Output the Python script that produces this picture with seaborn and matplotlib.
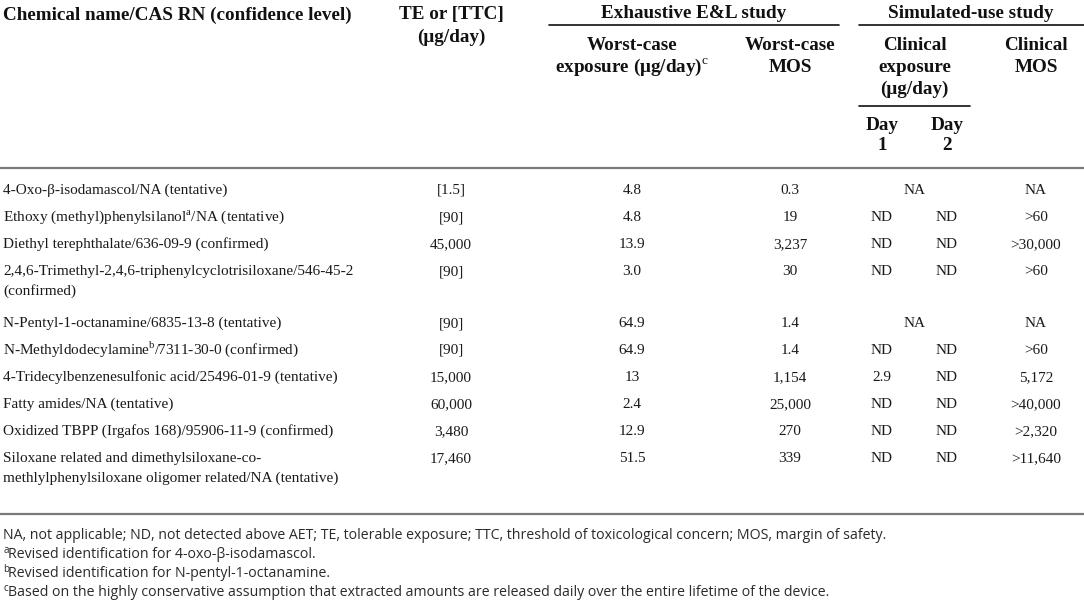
import matplotlib
matplotlib.use("Agg")
import matplotlib.pyplot as plt
import seaborn as sns

# table content
chemicals = [
    "4-Oxo-β-isodamascol/NA (tentative)",
    "Ethoxy (methyl)phenylsilanol$^{\\mathrm{a}}$/NA (tentative)",
    "Diethyl terephthalate/636-09-9 (confirmed)",
    "2,4,6-Trimethyl-2,4,6-triphenylcyclotrisiloxane/546-45-2\n(confirmed)",
    "N-Pentyl-1-octanamine/6835-13-8 (tentative)",
    "N-Methyldodecylamine$^{\\mathrm{b}}$/7311-30-0 (confirmed)",
    "4-Tridecylbenzenesulfonic acid/25496-01-9 (tentative)",
    "Fatty amides/NA (tentative)",
    "Oxidized TBPP (Irgafos 168)/95906-11-9 (confirmed)",
    "Siloxane related and dimethylsiloxane-co-\nmethlylphenylsiloxane oligomer related/NA (tentative)",
]
te_ttc = ["[1.5]", "[90]", "45,000", "[90]", "[90]", "[90]", "15,000", "60,000", "3,480", "17,460"]
worst_exposure = ["4.8", "4.8", "13.9", "3.0", "64.9", "64.9", "13", "2.4", "12.9", "51.5"]
worst_mos = ["0.3", "19", "3,237", "30", "1.4", "1.4", "1,154", "25,000", "270", "339"]
day1 = ["NA", "ND", "ND", "ND", "NA", "ND", "2.9", "ND", "ND", "ND"]
day2 = [None, "ND", "ND", "ND", None, "ND", "ND", "ND", "ND", "ND"]  # None -> merged with day 1
clinical_mos = ["NA", ">60", ">30,000", ">60", "NA", ">60", "5,172", ">40,000", ">2,320", ">11,640"]

footnote_marks = ["", "a", "b", "c"]
footnotes = [
    "NA, not applicable; ND, not detected above AET; TE, tolerable exposure; TTC, threshold of "
    "toxicological concern; MOS, margin of safety.",
    "Revised identification for 4-oxo-β-isodamascol.",
    "Revised identification for N-pentyl-1-octanamine.",
    "Based on the highly conservative assumption that extracted amounts are released "
    "daily over the entire lifetime of the device.",
]

sns.set_theme(style="white")
plt.rcParams["font.family"] = ["Liberation Serif", "DejaVu Serif"]
plt.rcParams["mathtext.fontset"] = "custom"
plt.rcParams["mathtext.rm"] = "Liberation Serif"

W, H = 1084, 604
fig = plt.figure(figsize=(W / 100, H / 100), dpi=100)
ax = fig.add_axes([0, 0, 1, 1])
ax.set_xlim(0, W)
ax.set_ylim(H, 0)
ax.axis("off")

HEAD = dict(fontsize=13.8, fontweight="bold", color="#111111", va="baseline")
BODY = dict(fontsize=11, color="#1a1a1a", va="baseline")
FOOT = dict(color="#2a2a2a", va="baseline", family=["Open Sans", "DejaVu Sans"])
RULE = "#7a7a7a"
HOFF, BOFF = 6.5, 5  # centre line -> baseline, pixels

# column centres
x_te, x_wexp, x_wmos, x_d1, x_d2, x_cmos = 451, 632, 790, 882, 947, 1036


def head(x, y, lines, step=22, ha="center"):
    for k, s in enumerate(lines):
        ax.text(x, y + k * step + HOFF, s, ha=ha, **HEAD)


def body(x, y, s, ha="center"):
    ax.text(x, y + BOFF, s, ha=ha, **BODY)


# header block
head(3, 13, ["Chemical name/CAS RN (confidence level)"], ha="left")
head(x_te, 13, ["TE or [TTC]", "(μg/day)"])
head(694, 12, ["Exhaustive E&L study"])
head(971, 12, ["Simulated-use study"])
ax.plot([549, 839], [25, 25], color="#111111", lw=1.2)
ax.plot([859, W], [25, 25], color="#111111", lw=1.2)
head(x_wexp, 43, ["Worst-case", "exposure (μg/day)$^{\\mathrm{c}}$"])
head(x_wmos, 43, ["Worst-case", "MOS"])
head((x_d1 + x_d2) / 2, 43, ["Clinical", "exposure", "(μg/day)"])
head(x_cmos, 43, ["Clinical", "MOS"])
ax.plot([859, 970], [106, 106], color="#111111", lw=1.2)
head(x_d1, 123, ["Day", "1"], step=21)
head(x_d2, 123, ["Day", "2"], step=21)
ax.plot([0, W], [168, 168], color=RULE, lw=1.6)

# body rows
y = 189
for i, name in enumerate(chemicals):
    parts = name.split("\n")
    for k, s in enumerate(parts):
        body(3, y + 20 * k, s, ha="left")
    body(x_te, y, te_ttc[i])
    body(x_wexp, y, worst_exposure[i])
    body(x_wmos, y, worst_mos[i])
    if day2[i] is None:
        body((x_d1 + x_d2) / 2, y, day1[i])
    else:
        body(x_d1, y, day1[i])
        body(x_d2, y, day2[i])
    body(x_cmos, y, clinical_mos[i])
    last = y + 20 * (len(parts) - 1)
    y += 27 + 25 * (len(parts) - 1)

ax.plot([0, W], [last + 37, last + 37], color=RULE, lw=1.6)

# footnotes, with the superscript mark drawn as its own small text
for k, (mark, s) in enumerate(zip(footnote_marks, footnotes)):
    yb = last + 57 + 19 * k + 5
    x0 = 3
    if mark:
        ax.text(x0, yb - 5, mark, ha="left", fontsize=7, **FOOT)
        x0 = 8.5
    ax.text(x0, yb, s, ha="left", fontsize=10.2, **FOOT)

fig.savefig("out.png", dpi=100)
